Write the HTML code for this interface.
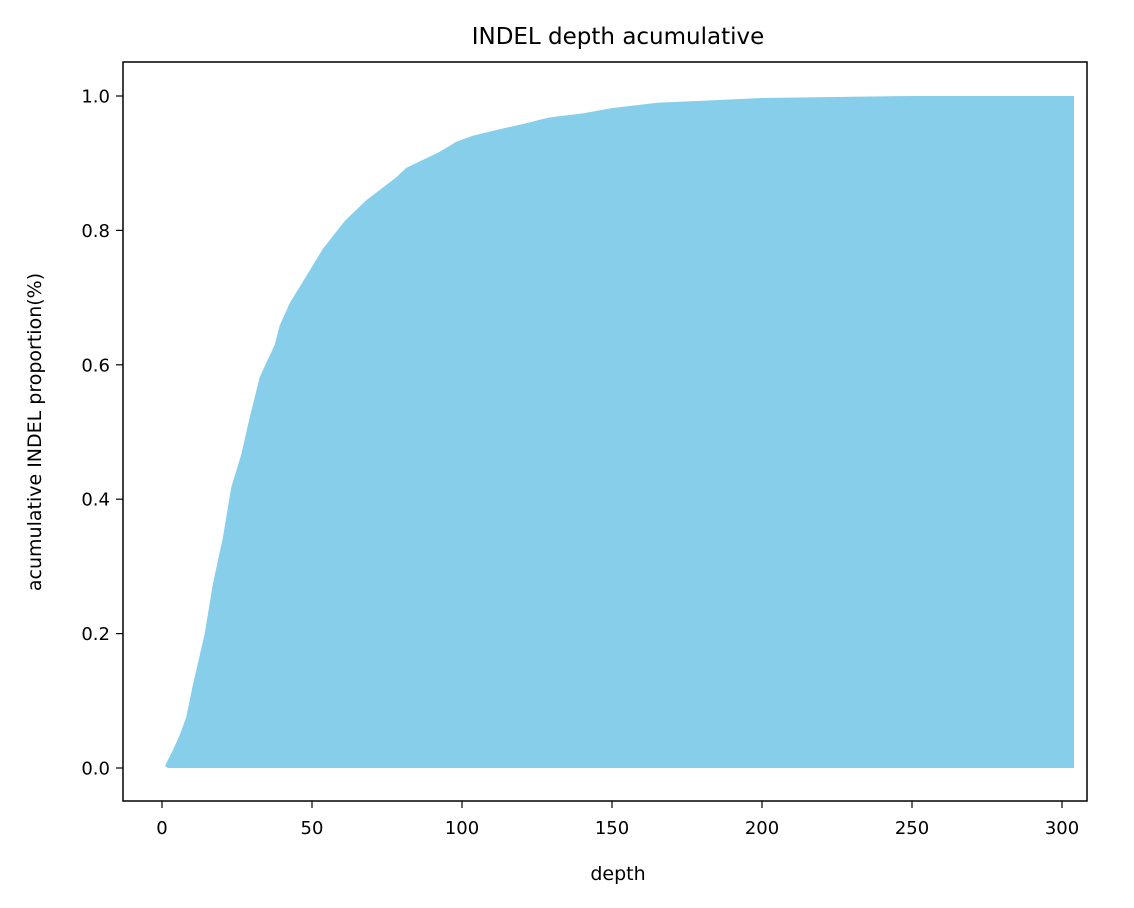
<!DOCTYPE html>
<html><head><meta charset="utf-8"><style>
body{margin:0;background:#fff;}
svg{display:block;font-family:"DejaVu Sans","Liberation Sans",sans-serif;}
</style></head><body>
<svg width="1134" height="908" viewBox="0 0 1134 908">
<rect x="0" y="0" width="1134" height="908" fill="#fff"/>
<g id="plot"></g>
<rect x="123" y="62" width="964" height="739" fill="none" stroke="#000" stroke-width="1.5"/>
<g id="xt"></g><g id="yt"></g>
<text x="618" y="44" text-anchor="middle" font-size="23">INDEL depth acumulative</text>
<text x="618" y="880" text-anchor="middle" font-size="19">depth</text>
<text transform="translate(41,432) rotate(-90)" text-anchor="middle" font-size="19">acumulative INDEL proportion(%)</text>
</svg>
<script>
const depths=[1,2,4,6,8.1,10.3,14.2,17,20.3,23.1,26.4,29.2,32.6,37.6,39.2,42.6,48.1,53.7,60.9,68.1,78.1,81.4,92.6,98.1,103.7,112,120,129,140,150,165,180,200,230,250,304];
const values=[0.003,0.012,0.03,0.05,0.076,0.124,0.199,0.275,0.343,0.418,0.466,0.521,0.582,0.63,0.658,0.692,0.732,0.773,0.814,0.845,0.879,0.893,0.917,0.932,0.941,0.95,0.958,0.968,0.974,0.982,0.99,0.993,0.997,0.999,1.0,1.0];
const xTicks=[0,50,100,150,200,250,300];
const yTicks=[0.0,0.2,0.4,0.6,0.8,1.0];
const NS="http://www.w3.org/2000/svg";
function X(d){return 162+d*3;}
function Y(v){return 768-v*672;}
let pts=depths.map((d,i)=>X(d).toFixed(1)+","+Y(values[i]).toFixed(1));
pts.push(X(depths[depths.length-1])+","+Y(0));
pts.push(X(depths[1])+","+Y(0));
const poly=document.createElementNS(NS,"polygon");
poly.setAttribute("points",pts.join(" "));
poly.setAttribute("fill","#87ceeb");


document.getElementById("plot").appendChild(poly);
const xt=document.getElementById("xt");
xTicks.forEach(t=>{
 const l=document.createElementNS(NS,"line");
 l.setAttribute("x1",X(t));l.setAttribute("x2",X(t));l.setAttribute("y1",801);l.setAttribute("y2",808);l.setAttribute("stroke","#000");l.setAttribute("stroke-width","1.2");
 
 
 xt.appendChild(l);
 const tx=document.createElementNS(NS,"text");
 tx.setAttribute("x",X(t));tx.setAttribute("y",834);tx.setAttribute("text-anchor","middle");tx.setAttribute("font-size","18");
 tx.textContent=t;
 
 
 xt.appendChild(tx);
});
const yt=document.getElementById("yt");
yTicks.forEach(t=>{
 const l=document.createElementNS(NS,"line");
 l.setAttribute("x1",116);l.setAttribute("x2",123);l.setAttribute("y1",Y(t));l.setAttribute("y2",Y(t));l.setAttribute("stroke","#000");l.setAttribute("stroke-width","1.2");
 
 
 yt.appendChild(l);
 const tx=document.createElementNS(NS,"text");
 tx.setAttribute("x",110);tx.setAttribute("y",Y(t)+6.5);tx.setAttribute("text-anchor","end");tx.setAttribute("font-size","18");
 tx.textContent=t.toFixed(1);
 
 
 yt.appendChild(tx);
});
</script>
</body></html>
